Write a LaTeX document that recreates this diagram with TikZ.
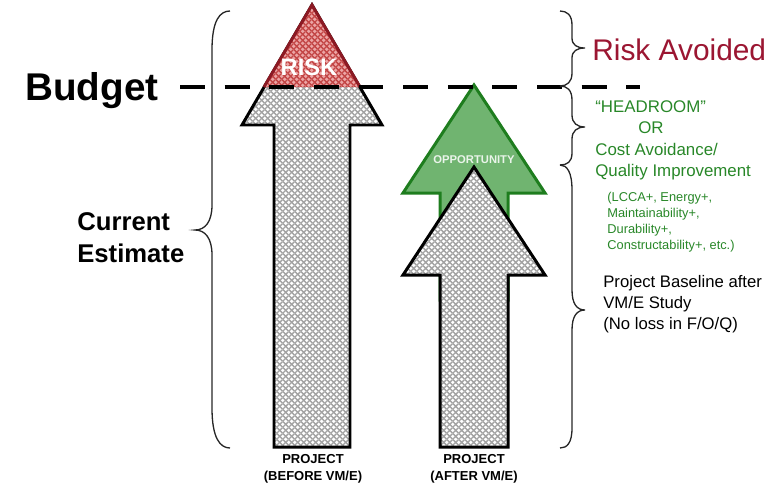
\documentclass[tikz,border=0pt]{standalone}
\usepackage{fontspec}
\setmainfont{Liberation Sans}
\usetikzlibrary{patterns.meta}
\definecolor{riskred}{RGB}{155,22,50}
\definecolor{riskfill}{RGB}{236,165,165}
\definecolor{riskmesh}{RGB}{195,70,70}
\definecolor{riskline}{RGB}{140,25,35}
\definecolor{oppfill}{RGB}{112,180,112}
\definecolor{oppline}{RGB}{30,125,30}
\definecolor{greentext}{RGB}{40,135,40}
\newcommand{\fsz}[1]{\fontsize{#1}{#1}\selectfont}
\tikzdeclarepattern{
  name=meshpat, type=uncolored,
  bounding box={(0,0) and (3.2pt,3.2pt)},
  tile size={(3.2pt,3.2pt)},
  code={\draw[line width=0.85pt] (-0.2pt,-0.2pt) -- (3.4pt,3.4pt) (-0.2pt,3.4pt) -- (3.4pt,-0.2pt);}
}
\begin{document}
\begin{tikzpicture}[x=0.02cm,y=-0.02cm,
  mesh/.style={preaction={fill=white}, pattern=meshpat, pattern color=gray!72},
  arrowline/.style={draw=black, line width=1.7pt, line join=miter},
  bracel/.style={draw=black!85, line width=0.75pt},
  lbl/.style={inner sep=0pt, anchor=base west},
  clbl/.style={inner sep=0pt, anchor=base},
]
\useasboundingbox (0,0) rectangle (777,484);

% ---------- left arrow (before) ----------
\path[mesh, arrowline] (312,5) -- (382,125) -- (350,125) -- (350,447) -- (274,447)
  -- (274,125) -- (242,125) -- cycle;
% risk triangle
\path[preaction={fill=riskfill}, pattern=meshpat, pattern color=riskmesh,
  draw=riskline, line width=1.7pt, line join=miter] (264,87) -- (312,5) -- (360,87);
\node[clbl, text=white, font=\bfseries\fsz{13.5}] (risk) at (309,75) {RISK};

% ---------- right arrows (after) ----------
\path[fill=oppfill, draw=oppline, line width=1.7pt, line join=miter]
  (474,85) -- (545,193) -- (508,193) -- (508,300) -- (440,300) -- (440,193) -- (403,193) -- cycle;
\node[clbl, text=white!85!oppfill, font=\bfseries\fsz{6.4}] (opp) at (474,163) {OPPORTUNITY};
\path[mesh, arrowline] (474,167) -- (545,275) -- (508,275) -- (508,447) -- (440,447)
  -- (440,275) -- (403,275) -- cycle;

% ---------- budget line ----------
\coordinate (b1) at (180,87);
\coordinate (b2) at (640,87);
\draw[line width=2.8pt, dash pattern=on 14.2pt off 11.2pt] (b1) -- (b2);
\node[lbl, font=\bfseries\fsz{22}] (budget) at (25,100) {Budget};

% ---------- left brace ----------
\draw[bracel] (230,11) .. controls (220,11) and (212,20) .. (212,50) -- (212,205)
  .. controls (212,222) and (205,230) .. (195,230)
  .. controls (205,230) and (212,238) .. (212,255) -- (212,408)
  .. controls (212,438) and (220,448) .. (230,448);
\node[lbl, font=\bfseries\fsz{14.6}] (cur1) at (77,230) {Current};
\node[lbl, font=\bfseries\fsz{14.6}] (cur2) at (77,262) {Estimate};

% ---------- right braces ----------
\draw[bracel] (560,11) .. controls (567,11) and (572,15) .. (572,25) -- (572,38)
  .. controls (572,45) and (577,48) .. (585,48)
  .. controls (577,48) and (572,51) .. (572,58) -- (572,73)
  .. controls (572,82) and (567,86) .. (560,86);
\draw[bracel] (560,86) .. controls (567,86) and (572,90) .. (572,100) -- (572,115)
  .. controls (572,123) and (577,127) .. (585,127)
  .. controls (577,127) and (572,131) .. (572,139) -- (572,153)
  .. controls (572,162) and (567,165) .. (560,165);
\draw[bracel] (560,165) .. controls (567,165) and (572,172) .. (572,190) -- (572,290)
  .. controls (572,304) and (577,310) .. (585,310)
  .. controls (577,310) and (572,316) .. (572,330) -- (572,428)
  .. controls (572,443) and (567,448) .. (560,448);

% ---------- right texts ----------
\node[lbl, text=riskred, font=\fsz{17}] (ra) at (592,60) {Risk Avoided};
\node[lbl, text=greentext, font=\fsz{9.6}] (g1) at (595,112) {“HEADROOM”};
\node[lbl, text=greentext, font=\fsz{9.6}] (g2) at (638,133) {OR};
\node[lbl, text=greentext, font=\fsz{9.6}] (g3) at (595,155) {Cost Avoidance/};
\node[lbl, text=greentext, font=\fsz{9.6}] (g4) at (595,176) {Quality Improvement};
\node[lbl, text=greentext, font=\fsz{7.3}] (s1) at (607,201) {(LCCA+, Energy+,};
\node[lbl, text=greentext, font=\fsz{7.3}] (s2) at (607,217) {Maintainability+,};
\node[lbl, text=greentext, font=\fsz{7.3}] (s3) at (607,233) {Durability+,};
\node[lbl, text=greentext, font=\fsz{7.3}] (s4) at (607,249) {Constructability+, etc.)};
\node[lbl, font=\fsz{9.5}] (p1) at (603,287) {Project Baseline after};
\node[lbl, font=\fsz{9.5}] (p2) at (603,308) {VM/E Study};
\node[lbl, font=\fsz{9.5}] (p3) at (603,329) {(No loss in F/O/Q)};

% ---------- bottom labels ----------
\node[clbl, font=\bfseries\fsz{7.4}] (pb1) at (313,463) {PROJECT};
\node[clbl, font=\bfseries\fsz{7.4}] (pb2) at (313,480) {(BEFORE VM/E)};
\node[clbl, font=\bfseries\fsz{7.4}] (pa1) at (474,463) {PROJECT};
\node[clbl, font=\bfseries\fsz{7.4}] (pa2) at (474,480) {(AFTER VM/E)};
\end{tikzpicture}
\end{document}
